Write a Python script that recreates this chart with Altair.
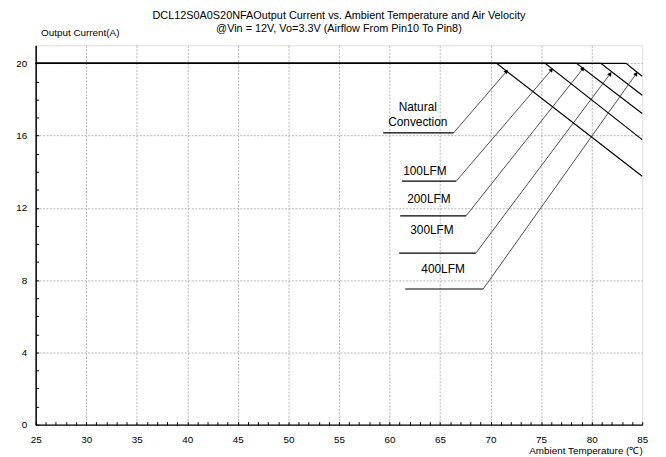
import math
import altair as alt
import pandas as pd

# ---- data ----
curve_names = ["Natural Convection", "100LFM", "200LFM", "300LFM", "400LFM"]
start_temp = 25
start_current = 20
knee_temp = [70.6, 75.4, 78.5, 80.9, 83.4]
end_temp = 85
end_current = [13.75, 15.78, 17.22, 18.23, 19.29]

label_text = ["Natural", "Convection", "100LFM", "200LFM", "300LFM", "400LFM"]
label_x = [62.8, 62.8, 63.5, 63.9, 64.2, 65.3]
label_y = [17.59, 16.73, 14.04, 12.47, 10.76, 8.64]

under_x1 = [59.37, 61.23, 61.06, 60.96, 61.55]
under_x2 = [66.34, 66.60, 67.58, 68.55, 69.27]
under_y = [16.15, 13.48, 11.56, 9.50, 7.51]
tip_x = [71.58, 76.04, 79.14, 81.84, 84.41]
tip_y = [19.56, 19.65, 19.71, 19.43, 19.43]

x_ticks = list(range(25, 86))
y_ticks = list(range(0, 21))

W, H = 614, 384
XMIN, XMAX, YMIN, YMAX = 25, 85, 0, 21
FONT = "Liberation Sans"

# ---- tables ----
rows = []
for name, k, e in zip(curve_names, knee_temp, end_current):
    rows += [
        {"curve": name, "o": 0, "t": start_temp, "i": start_current},
        {"curve": name, "o": 1, "t": k, "i": start_current},
        {"curve": name, "o": 2, "t": end_temp, "i": e},
    ]
curves = pd.DataFrame(rows)

px_x = W / (XMAX - XMIN)
px_y = H / (YMAX - YMIN)
ann = pd.DataFrame({
    "x1": under_x1, "x2": under_x2, "y": under_y,
    "tx": tip_x, "ty": tip_y,
})
ann["angle"] = [
    math.degrees(math.atan2((tx - x2) * px_x, (ty - y) * px_y))
    for x2, y, tx, ty in zip(under_x2, under_y, tip_x, tip_y)
]
labels = pd.DataFrame({"text": label_text, "x": label_x, "y": label_y})

xscale = alt.Scale(domain=[XMIN, XMAX], nice=False, zero=False)
yscale = alt.Scale(domain=[YMIN, YMAX], nice=False, zero=False)

x_axis = alt.Axis(
    values=x_ticks, tickCount=200, format="d",
    labelExpr="datum.value % 5 === 0 ? datum.label : ''",
    labelOverlap=False, labelFlush=False,
    labelFont=FONT, labelFontSize=10, labelColor="black", labelPadding=13,
    tickSize={"expr": "-3"}, tickColor="black", tickWidth=1,
    domainColor="black", domainWidth=1.5,
    grid=True, gridColor="#a0a0a0", gridDash=[2, 1.5], gridWidth=0.8,
    gridOpacity={"condition": {"test": "datum.value % 5 === 0 && datum.value > 25 && datum.value < 85", "value": 1}, "value": 0},
    title="Ambient Temperature (\u2103)", titleFont=FONT, titleFontSize=10,
    titleFontWeight="normal", titleColor="black",
    titleAlign="right", titleAnchor="end", titleX=W, titleY=29.5, titleBaseline="alphabetic",
)
y_axis = alt.Axis(
    values=y_ticks, tickCount=200, format="d",
    labelExpr="datum.value % 4 === 0 ? datum.label : ''",
    labelOverlap=False, labelFlush=False,
    labelFont=FONT, labelFontSize=10, labelColor="black", labelPadding=12,
    tickSize={"expr": "-3"}, tickColor="black", tickWidth=1,
    domainColor="black", domainWidth=1.5,
    grid=True, gridColor="#a0a0a0", gridDash=[2, 1.5], gridWidth=0.8,
    gridOpacity={"condition": {"test": "datum.value % 4 === 0 && datum.value > 0", "value": 1}, "value": 0},
    title="Output Current(A)", titleFont=FONT, titleFontSize=10,
    titleFontWeight="normal", titleColor="black", titleAngle=0,
    titleAlign="left", titleX=5, titleY=-10, titleBaseline="alphabetic",
)

lines = alt.Chart(curves).mark_line(color="black", strokeWidth=1.2).encode(
    x=alt.X("t:Q", scale=xscale, axis=x_axis),
    y=alt.Y("i:Q", scale=yscale, axis=y_axis),
    detail="curve:N",
    order="o:Q",
)

underlines = alt.Chart(ann).mark_rule(color="black", strokeWidth=1.2).encode(
    x=alt.X("x1:Q", scale=xscale), x2="x2:Q", y=alt.Y("y:Q", scale=yscale)
)
leaders = alt.Chart(ann).mark_rule(color="#222", strokeWidth=0.8).encode(
    x=alt.X("x2:Q", scale=xscale), x2="tx:Q",
    y=alt.Y("y:Q", scale=yscale), y2="ty:Q",
)
arrows = alt.Chart(ann).mark_point(
    shape="triangle-up", filled=True, color="black", size=22, opacity=1
).encode(
    x=alt.X("tx:Q", scale=xscale), y=alt.Y("ty:Q", scale=yscale),
    angle=alt.Angle("angle:Q", scale=None),
)
texts = alt.Chart(labels).mark_text(
    font=FONT, fontSize=12, color="black", align="center", baseline="middle"
).encode(
    x=alt.X("x:Q", scale=xscale), y=alt.Y("y:Q", scale=yscale), text="text:N"
)

chart = alt.layer(lines, underlines, leaders, arrows, texts).properties(
    width=W, height=H,
    autosize="none",
    padding={"left": 28, "top": 35, "right": 16, "bottom": 30},
    title=alt.TitleParams(
        text=["DCL12S0A0S20NFAOutput Current vs. Ambient Temperature and Air Velocity",
              "@Vin = 12V, Vo=3.3V (Airflow From Pin10 To Pin8)"],
        font=FONT, fontSize=11, fontWeight="normal", color="black",
        anchor="middle", frame="group", offset=-7, lineHeight=14,
    ),
).configure_view(stroke="#9a9a9a", strokeWidth=1.5).configure(background="white")

chart.save("out.html", embed_options={"renderer": "svg", "actions": False})
